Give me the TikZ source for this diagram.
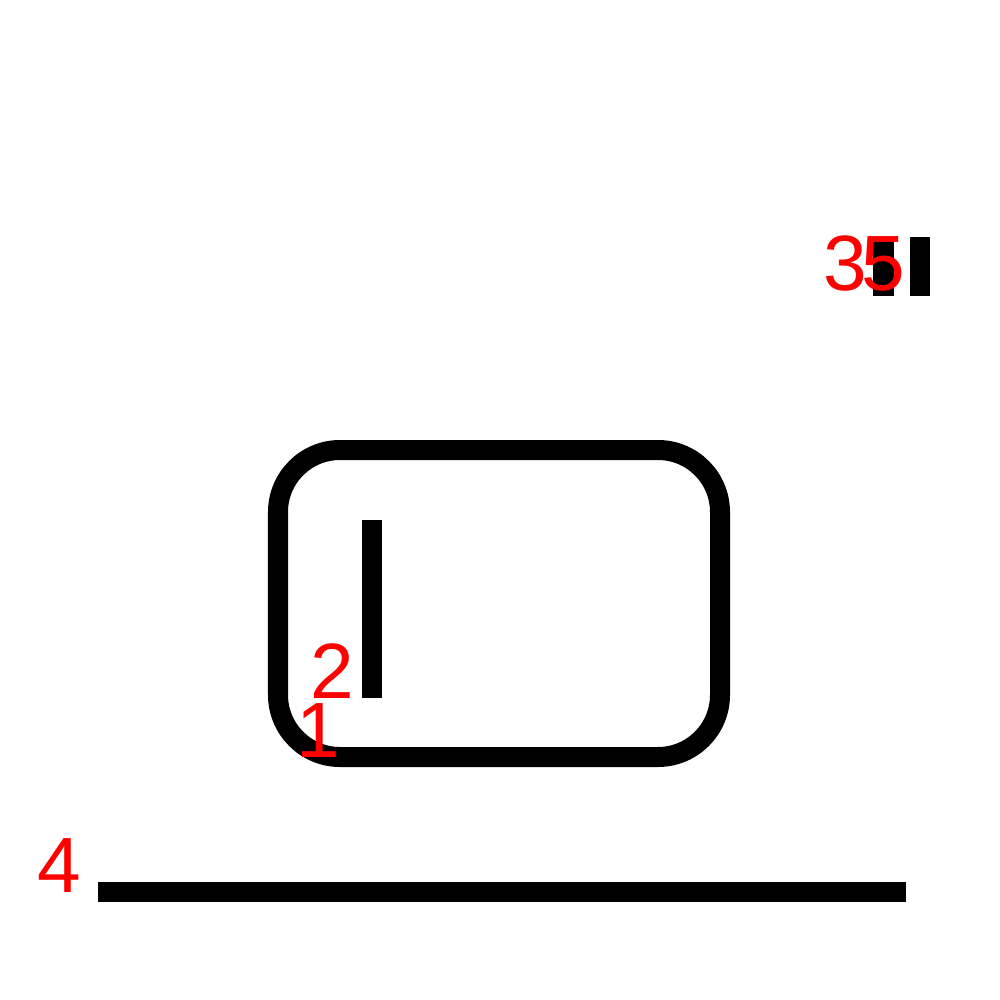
\documentclass[tikz,border=0pt]{standalone}
\usepackage{fontspec}
\setmainfont{Liberation Sans}
\begin{document}
\begin{tikzpicture}[x=0.01cm,y=-0.01cm,
  lbl/.style={text=red,inner sep=0pt,anchor=base west,font=\fontsize{22.3pt}{27pt}\selectfont},
  bar/.style={fill=black,draw=none}]
\useasboundingbox (0,0) rectangle (1000,1000);
% rounded frame
\draw[line width=0.2cm,rounded corners=0.62cm] (278,450) rectangle (720,757);
% bars
\fill[bar] (362,520) rectangle (382,698);
\fill[bar] (873,237) rectangle (894,296);
\fill[bar] (910,237) rectangle (930,296);
\fill[bar] (98,882) rectangle (906,902);
% labels
\node[lbl] (l4) at (37,892) {4};
\node[lbl] (l2) at (310,698) {2};
\node[lbl] (l1) at (296,757) {1};
\node[lbl] (l3) at (823,290) {3};
\node[lbl] (l5) at (861,290) {5};
\end{tikzpicture}
\end{document}
